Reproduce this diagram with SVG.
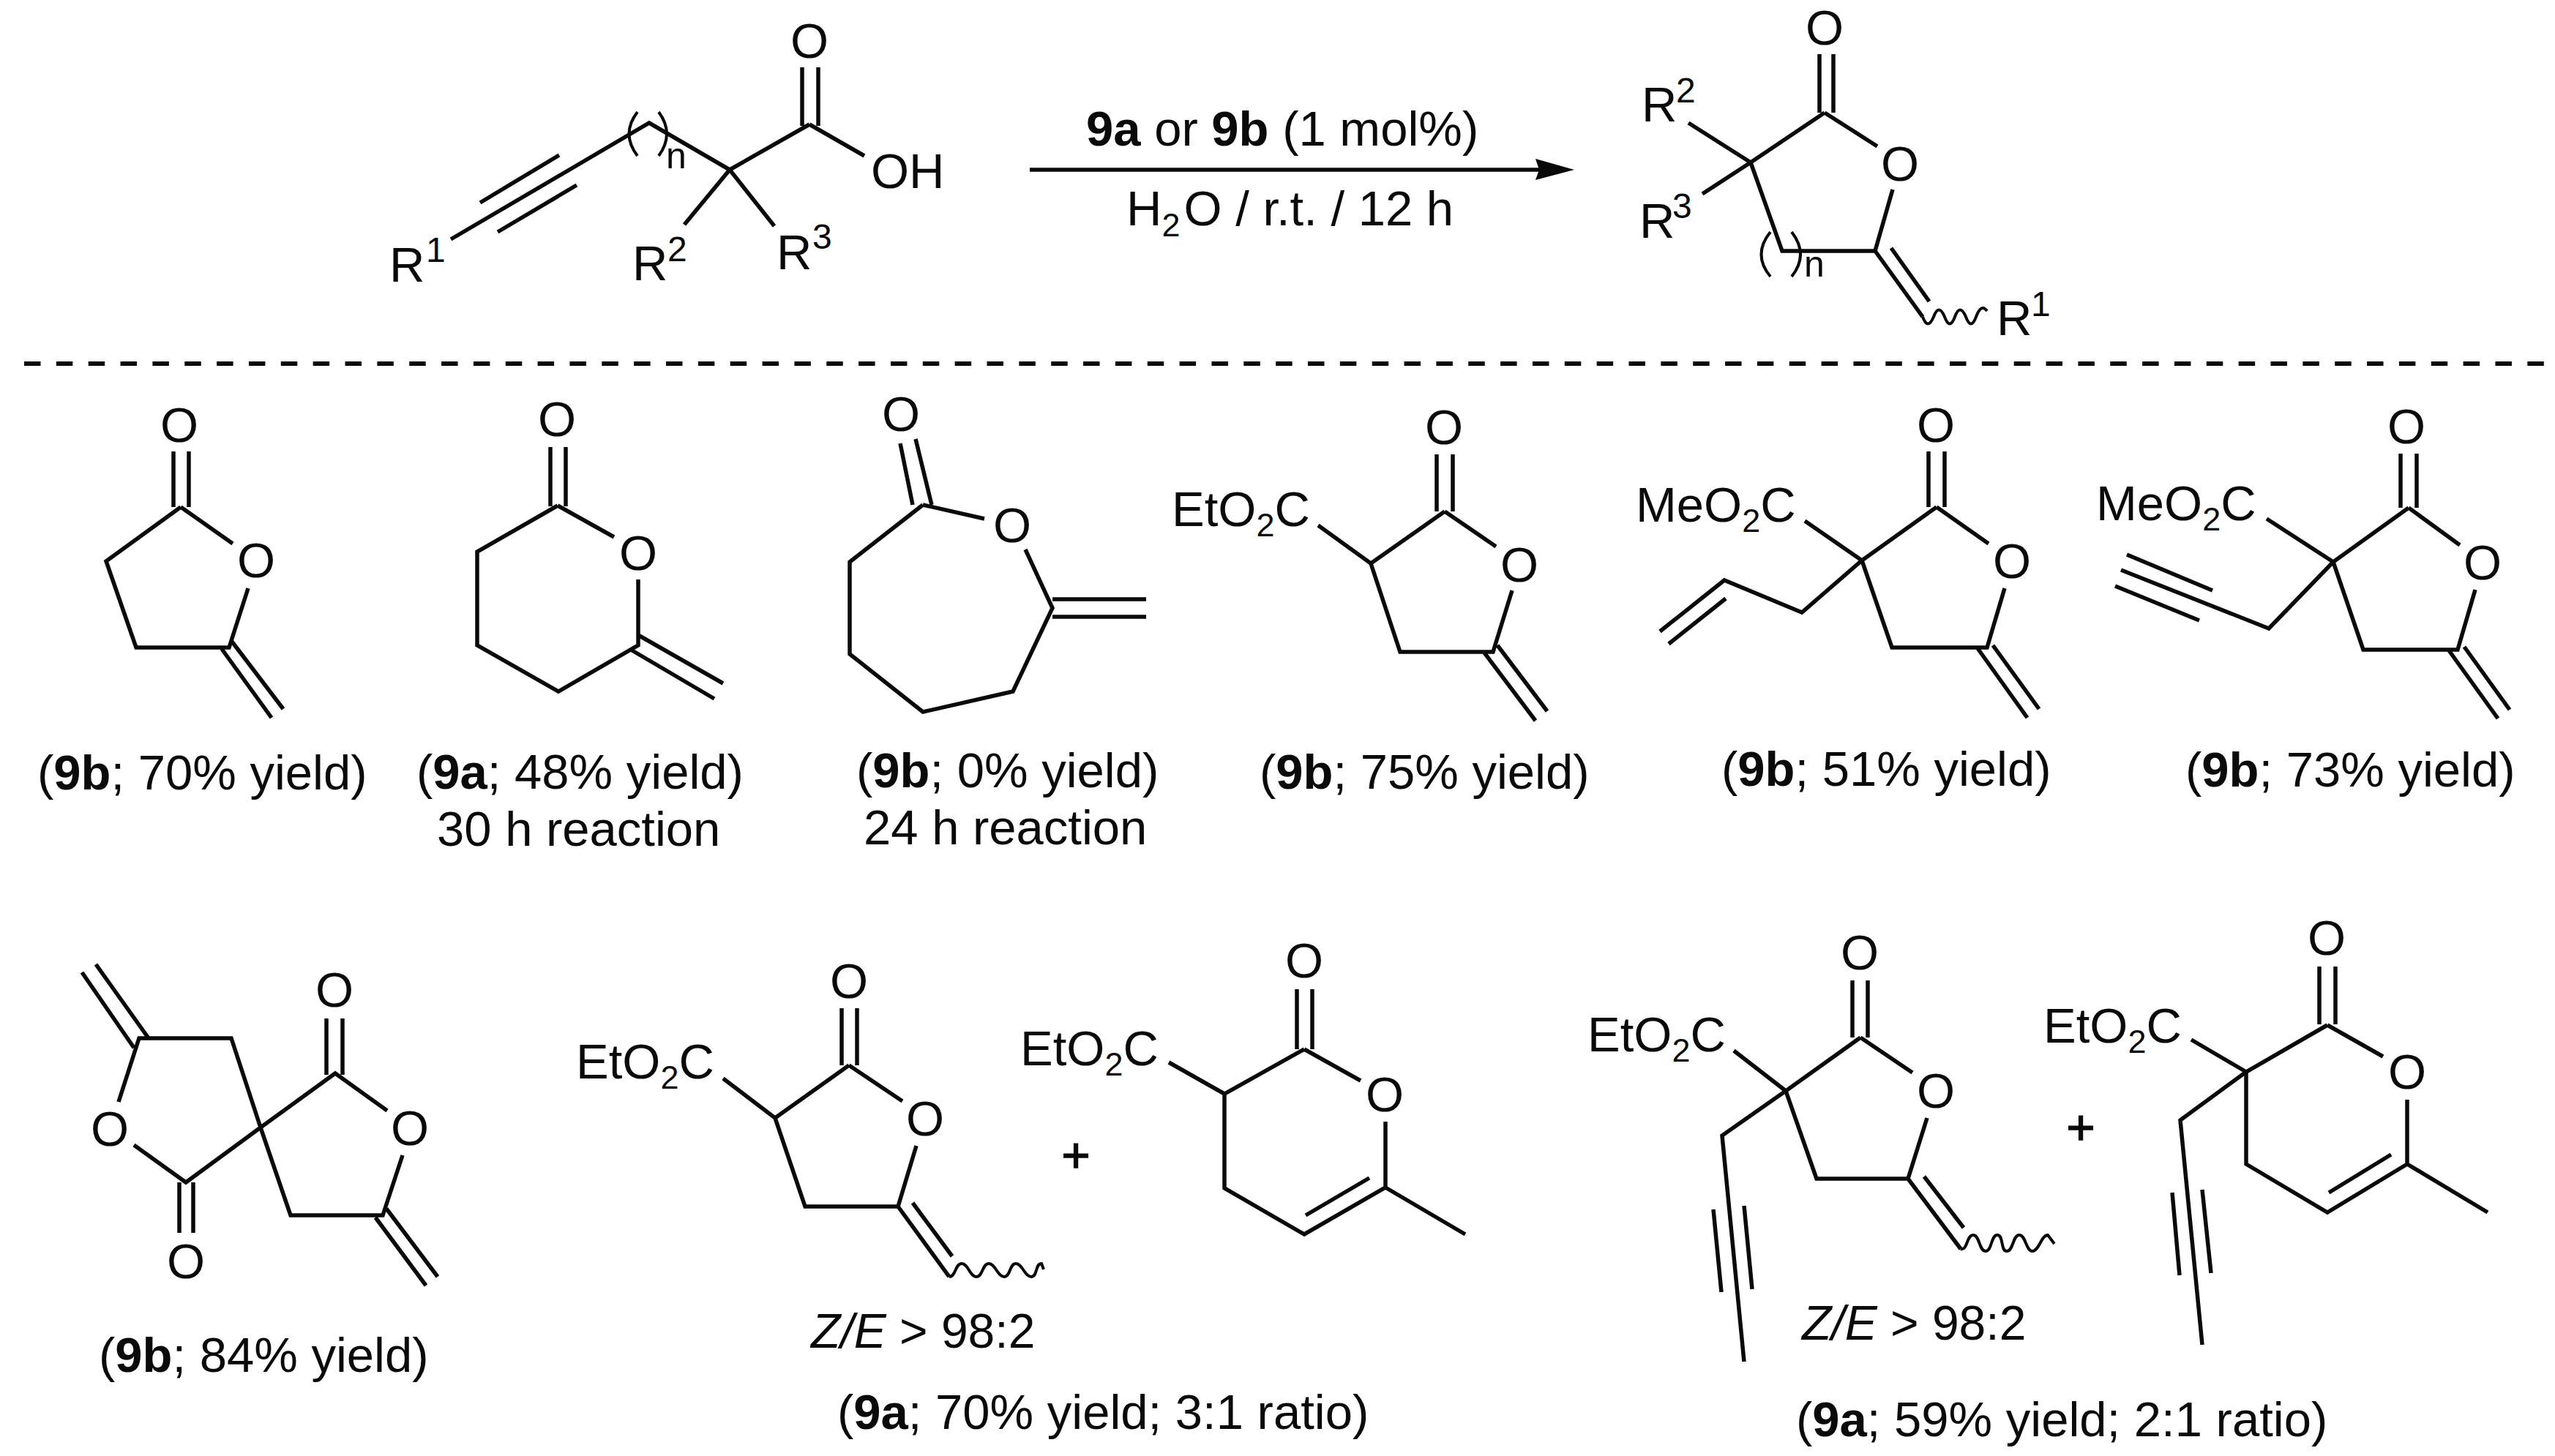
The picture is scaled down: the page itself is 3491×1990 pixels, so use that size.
<svg xmlns="http://www.w3.org/2000/svg" width="3491" height="1990" viewBox="0 0 3491 1990">
<style>
text{font-family:"Liberation Sans",Arial,sans-serif;font-size:67px;fill:#0a0a0a}
.m{text-anchor:middle}
.bd{font-weight:700}
.it{font-style:italic}
.ze{font-size:66px}
.sm{font-size:48px}
.nn{font-size:50px}
.sb{font-size:45px}
.pl{stroke:#0a0a0a;stroke-width:1.5}
.bond{fill:none;stroke:#0a0a0a;stroke-width:5.5}
.thin{fill:none;stroke:#0a0a0a;stroke-width:4}
</style>
<rect width="3491" height="1990" fill="#fff"/>
<g id="connectors">
<path class="bond" d="M1407,232H2104"/>
<polygon points="2098,217 2151,232 2098,246 2103,232" fill="#0a0a0a"/>
<path d="M33,497H3477" fill="none" stroke="#0a0a0a" stroke-width="6" stroke-dasharray="22.5 21.35"/>
</g>
<g id="reactant">
<path class="bond" d="M1096,92V172M1118,92V172M1106,170L1181,213M1106,170L997,232M997,232L935,307M997,232L1058,309M997,232L887,168L616,327M656,277L764,212M680,317L788,253"/>
<path class="thin" d="M871,153Q848,183 871,213M900,153Q922,183 900,213"/>
<text class="m" x="1106" y="79">O</text><text x="1190" y="257">OH</text>
<text class="nn" x="910" y="230">n</text>
<text x="532" y="385">R</text><text class="sm" x="582" y="358">1</text>
<text x="864" y="383">R</text><text class="sm" x="912" y="357">2</text>
<text x="1061" y="368">R</text><text class="sm" x="1110" y="340">3</text>
</g>
<g id="conditions">
<text x="1484" y="199"><tspan class="bd">9a</tspan> or <tspan class="bd">9b</tspan> (1 mol%)</text>
<text x="1539" y="308">H<tspan class="sb" dy="15">2</tspan><tspan dy="-15" dx="5">O / r.t. / 12 h</tspan></text>
</g>
<g id="product">
<path class="bond" d="M2486,74V154M2505,74V154M2493,154L2565,200M2493,154L2392,222L2307,168M2392,222L2326,265M2392,222L2435,343H2562L2586,259M2562,343L2627,433M2584,339L2636,412"/>
<path class="thin" d="M2419,317Q2394,348 2419,378M2448,317Q2472,348 2448,378M2627,433Q2634,452 2642,433Q2649,414 2657,433Q2664,452 2671,433Q2678,414 2686,433Q2693,452 2700,433Q2707,414 2715,425"/>
<text class="m" x="2493" y="61">O</text><text class="m" x="2596" y="247">O</text>
<text class="nn" x="2465" y="378">n</text>
<text x="2243" y="166">R</text><text class="sm" x="2290" y="140">2</text>
<text x="2240" y="325">R</text><text class="sm" x="2285" y="298">3</text>
<text x="2728" y="458">R</text><text class="sm" x="2775" y="432">1</text>
</g>
<g id="compound-1">
<path class="bond" d="M237,617V693M258,617V693M247,693L318,743M247,693L145,767L186,885H313L339,804M303,887L371,981M317,877L387,969"/>
<text class="m" x="245" y="604">O</text><text class="m" x="350" y="789">O</text>
<text x="51" y="1079">(<tspan class="bd">9b</tspan>; 70% yield)</text>
</g>
<g id="compound-2">
<path class="bond" d="M752,611V692M773,611V692M762,691L839,734M762,691L652,754V882L763,945L872,882V792M862,888L976,955M872,868L988,934"/>
<text class="m" x="761" y="596">O</text><text class="m" x="872" y="779">O</text>
<text x="569" y="1078">(<tspan class="bd">9a</tspan>; 48% yield)</text>
<text x="597" y="1156">30 h reaction</text>
</g>
<g id="compound-3">
<path class="bond" d="M1230,606L1247,690M1251,600L1273,690M1261,690L1345,709M1261,690L1161,768V894L1261,973L1384,945L1438,831L1401,751M1438,819H1566M1438,843H1566"/>
<text class="m" x="1231" y="589">O</text><text class="m" x="1383" y="741">O</text>
<text x="1170" y="1076">(<tspan class="bd">9b</tspan>; 0% yield)</text>
<text x="1180" y="1154">24 h reaction</text>
</g>
<g id="compound-4">
<path class="bond" d="M1963,621V699M1985,621V699M1974,699L2044,747M1974,699L1873,770L1913,891H2040L2066,807M1873,770L1801,718M2028,892L2098,985M2046,882L2114,972"/>
<text class="m" x="1973" y="607">O</text><text class="m" x="2076" y="795">O</text>
<text x="1601" y="719">EtO<tspan class="sb" dy="14">2</tspan><tspan dy="-14">C</tspan></text>
<text x="1721" y="1078">(<tspan class="bd">9b</tspan>; 75% yield)</text>
</g>
<g id="compound-5">
<path class="bond" d="M2635,617V693M2657,617V693M2646,693L2717,743M2646,693L2544,766L2585,885H2715L2739,804M2544,766L2466,712M2544,766L2462,837L2356,793L2268,863M2358,818L2280,880M2702,886L2770,981M2723,882L2786,969"/>
<text class="m" x="2645" y="604">O</text><text class="m" x="2749" y="790">O</text>
<text x="2235" y="713">MeO<tspan class="sb" dy="14">2</tspan><tspan dy="-14">C</tspan></text>
<text x="2352" y="1074">(<tspan class="bd">9b</tspan>; 51% yield)</text>
</g>
<g id="compound-6">
<path class="bond" d="M3280,620V694M3302,620V694M3291,694L3361,745M3291,694L3188,768L3229,888H3358L3382,806M3188,768L3097,709M3188,768L3100,859L2898,779M2906,758L3023,807M2890,801L3005,848M3346,889L3413,982M3367,884L3429,970"/>
<text class="m" x="3288" y="606">O</text><text class="m" x="3392" y="792">O</text>
<text x="2864" y="711">MeO<tspan class="sb" dy="14">2</tspan><tspan dy="-14">C</tspan></text>
<text x="2986" y="1075">(<tspan class="bd">9b</tspan>; 73% yield)</text>
</g>
<g id="compound-7">
<path class="bond" d="M356,1541L316,1419H190L162,1506M183,1565L254,1616L356,1541L458,1467L529,1518M356,1541L397,1661H523L550,1579M183,1432L112,1329M203,1419L131,1318M245,1616V1685M264,1616V1685M446,1392V1469M468,1392V1469M513,1664L582,1757M528,1652L598,1745"/>
<text class="m" x="150" y="1566">O</text><text class="m" x="254" y="1747">O</text><text class="m" x="457" y="1376">O</text><text class="m" x="560" y="1565">O</text>
<text x="135" y="1875">(<tspan class="bd">9b</tspan>; 84% yield)</text>
</g>
<g id="compound-8">
<path class="bond" d="M1150,1378V1456M1171,1378V1456M1160,1456L1233,1505M1160,1456L1059,1528L1100,1649H1227L1252,1566M1059,1528L988,1474M1227,1649L1297,1745M1247,1644L1301,1717"/>
<path class="thin" d="M1297,1745C1306,1745 1305,1727 1314,1727S1325,1745 1334,1745S1342,1727 1351,1727S1363,1745 1372,1745S1379,1727 1388,1727S1400,1745 1409,1745S1414,1727 1423,1727L1426,1735"/>
<text class="m" x="1160" y="1364">O</text><text class="m" x="1264" y="1552">O</text>
<text x="787" y="1474">EtO<tspan class="sb" dy="14">2</tspan><tspan dy="-14">C</tspan></text>
<text class="ze" x="1108" y="1842"><tspan class="it">Z/E</tspan> &gt; 98:2</text>
</g>
<g id="compound-9">
<path class="bond" d="M1772,1352V1434M1793,1352V1434M1782,1434L1859,1477M1782,1434L1673,1495V1624L1782,1687L1893,1623V1533M1784,1661L1871,1610M1893,1623L2002,1687M1673,1495L1597,1452"/>
<text class="m" x="1782" y="1336">O</text><text class="m" x="1892" y="1519">O</text>
<text x="1394" y="1456">EtO<tspan class="sb" dy="14">2</tspan><tspan dy="-14">C</tspan></text>
<text class="m pl" x="1470" y="1602">+</text>
<text x="1144" y="1953">(<tspan class="bd">9a</tspan>; 70% yield; 3:1 ratio)</text>
</g>
<g id="compound-10">
<path class="bond" d="M2531,1340V1418M2552,1340V1418M2542,1418L2613,1466M2542,1418L2440,1491L2482,1611H2607L2633,1528M2440,1491L2369,1436M2440,1491L2353,1552L2383,1861M2341,1653L2352,1766M2383,1648L2394,1762M2607,1611L2679,1707M2629,1608L2683,1678"/>
<path class="thin" d="M2679,1707C2688,1710 2687,1688 2696,1688S2704,1710 2713,1710S2720,1688 2729,1688S2733,1710 2742,1710S2750,1688 2759,1688S2768,1710 2777,1710S2789,1688 2798,1688L2807,1700"/>
<text class="m" x="2541" y="1325">O</text><text class="m" x="2645" y="1514">O</text>
<text x="2169" y="1437">EtO<tspan class="sb" dy="14">2</tspan><tspan dy="-14">C</tspan></text>
<text class="ze" x="2462" y="1831"><tspan class="it">Z/E</tspan> &gt; 98:2</text>
</g>
<g id="compound-11">
<path class="bond" d="M3169,1321V1400M3191,1321V1400M3180,1401L3256,1444M3180,1401L3069,1465V1591L3180,1657L3289,1591V1503M3182,1630L3267,1578M3289,1591L3399,1657M3069,1465L2994,1421M3069,1465L2979,1531L3009,1838M2968,1630L2978,1743M3009,1626L3021,1740"/>
<text class="m" x="3179" y="1305">O</text><text class="m" x="3289" y="1488">O</text>
<text x="2792" y="1425">EtO<tspan class="sb" dy="14">2</tspan><tspan dy="-14">C</tspan></text>
<text class="m pl" x="2843" y="1564">+</text>
<text x="2454" y="1963">(<tspan class="bd">9a</tspan>; 59% yield; 2:1 ratio)</text>
</g>
</svg>
